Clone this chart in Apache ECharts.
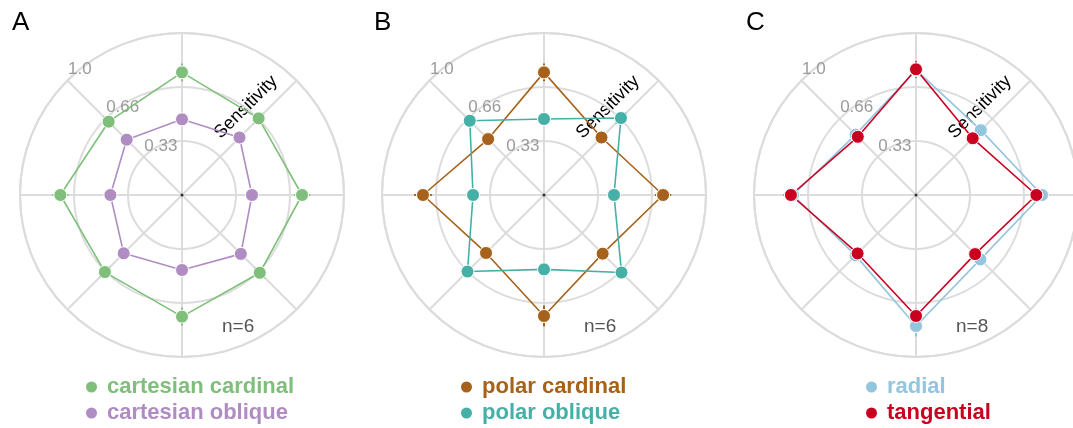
<!DOCTYPE html>
<html>
<head>
<meta charset="utf-8">
<script src="https://cdn.jsdelivr.net/npm/echarts@6/dist/echarts.min.js"></script>
<style>
  html, body { margin: 0; padding: 0; background: #ffffff; }
  #chart { width: 1073px; height: 428px; }
</style>
</head>
<body>
<div id="chart"></div>
<script>
// Stimulus directions in degrees (0 = right, counter-clockwise)
const directions = [0, 45, 90, 135, 180, 225, 270, 315];

// Radial ticks
const tickValues = [1 / 3, 2 / 3, 1];
const tickLabels = ['0.33', '0.66', '1.0'];

// Panel A
const cartesianCardinal    = [0.741, 0.669, 0.757, 0.640, 0.751, 0.673, 0.751, 0.679];
const cartesianCardinalErr = [0.050, 0.045, 0.055, 0.045, 0.050, 0.045, 0.055, 0.045];
const cartesianOblique     = [0.432, 0.502, 0.467, 0.483, 0.442, 0.509, 0.463, 0.514];
const cartesianObliqueErr  = [0.030, 0.030, 0.030, 0.030, 0.030, 0.030, 0.030, 0.030];

// Panel B
const polarCardinal    = [0.735, 0.502, 0.757, 0.488, 0.747, 0.506, 0.747, 0.512];
const polarCardinalErr = [0.050, 0.035, 0.055, 0.035, 0.055, 0.035, 0.065, 0.035];
const polarOblique     = [0.432, 0.672, 0.469, 0.648, 0.438, 0.668, 0.459, 0.677];
const polarObliqueErr  = [0.030, 0.045, 0.030, 0.040, 0.030, 0.040, 0.030, 0.040];

// Panel C
const radial        = [0.778, 0.566, 0.772, 0.527, 0.759, 0.527, 0.809, 0.562];
const radialErr     = [0.045, 0.040, 0.050, 0.040, 0.045, 0.040, 0.065, 0.040];
const tangential    = [0.743, 0.495, 0.776, 0.508, 0.772, 0.510, 0.747, 0.516];
const tangentialErr = [0.040, 0.035, 0.050, 0.035, 0.045, 0.035, 0.045, 0.035];

const FONT = '"Liberation Sans", Arial, Helvetica, sans-serif';
const GRID = '#dcdcdc';

const panels = [
  {
    letter: 'A', count: 'n=6', center: [182, 195], legendLeft: 86,
    groups: [
      { name: 'cartesian cardinal', color: '#7fbf7b', values: cartesianCardinal, errors: cartesianCardinalErr },
      { name: 'cartesian oblique',  color: '#af8dc3', values: cartesianOblique,  errors: cartesianObliqueErr }
    ]
  },
  {
    letter: 'B', count: 'n=6', center: [544, 195], legendLeft: 461,
    groups: [
      { name: 'polar cardinal', color: '#a6611a', values: polarCardinal, errors: polarCardinalErr },
      { name: 'polar oblique',  color: '#45b0a6', values: polarOblique,  errors: polarObliqueErr }
    ]
  },
  {
    letter: 'C', count: 'n=8', center: [916, 195], legendLeft: 866,
    groups: [
      { name: 'radial',     color: '#92c5de', values: radial,     errors: radialErr },
      { name: 'tangential', color: '#ca0020', values: tangential, errors: tangentialErr }
    ]
  }
];

const R = 162;
const polar = [], angleAxis = [], radiusAxis = [], series = [], legend = [], graphic = [];

panels.forEach((p, i) => {
  polar.push({ center: p.center, radius: R });
  angleAxis.push({
    polarIndex: i, type: 'value', min: 0, max: 360, interval: 45,
    startAngle: 0, clockwise: false,
    axisLine: { show: true, lineStyle: { color: GRID, width: 2 } },
    axisTick: { show: false }, axisLabel: { show: false },
    splitLine: { show: true, lineStyle: { color: GRID, width: 2 } }
  });
  radiusAxis.push({
    polarIndex: i, type: 'value', min: 0, max: 1, interval: 1 / 3,
    axisLine: { show: false }, axisTick: { show: false }, axisLabel: { show: false },
    splitLine: { show: true, lineStyle: { color: GRID, width: 2 } }
  });

  // tick labels along the upper-left spoke
  series.push({
    type: 'scatter', coordinateSystem: 'polar', polarIndex: i, silent: true,
    symbolSize: 1, itemStyle: { color: 'rgba(0,0,0,0)' },
    data: tickValues.map((v, k) => [v, 135, tickLabels[k]]),
    label: {
      show: true, position: [0, 0], align: 'left', verticalAlign: 'bottom',
      offset: [1, -2], formatter: (q) => q.value[2],
      color: '#828282', fontFamily: FONT, fontSize: 17
    },
    z: 3
  });

  // origin mark
  series.push({
    type: 'scatter', coordinateSystem: 'polar', polarIndex: i, silent: true,
    symbolSize: 3, itemStyle: { color: '#000' }, data: [[0, 0]], z: 3
  });

  p.groups.forEach((g, gi) => {
    // short radial error bars
    series.push({
      type: 'custom', coordinateSystem: 'polar', polarIndex: i, silent: true,
      name: g.name + ' spread',
      data: g.values.map((v, k) => [v, directions[k], g.errors[k]]),
      encode: { radius: 0, angle: 1 },
      renderItem: (params, api) => {
        const r = api.value(0), a = api.value(1), e = api.value(2);
        const p1 = api.coord([r - e, a]);
        const p2 = api.coord([r + e, a]);
        return {
          type: 'line',
          shape: { x1: p1[0], y1: p1[1], x2: p2[0], y2: p2[1] },
          style: { stroke: g.color, lineWidth: 2 }
        };
      },
      z: 4
    });
    const pts = g.values.map((v, k) => [v, directions[k]]);
    pts.push([g.values[0], 360]);
    series.push({
      type: 'line', coordinateSystem: 'polar', polarIndex: i, name: g.name,
      data: pts, symbol: 'circle', symbolSize: 13, showAllSymbol: true,
      lineStyle: { color: g.color, width: 1.6 },
      itemStyle: { color: g.color, borderColor: '#ffffff', borderWidth: 1 },
      emphasis: { disabled: true }, animation: false, z: 5
    });

    // one legend row per group
    legend.push({
      left: p.legendLeft, top: 376 + gi * 26, orient: 'vertical', padding: 0,
      icon: 'circle', itemWidth: 11, itemHeight: 11,
      selectedMode: false,
      data: [{ name: g.name, itemStyle: { borderWidth: 0 }, textStyle: { color: g.color } }],
      textStyle: { fontFamily: FONT, fontSize: 22, fontWeight: 'bold', lineHeight: 22, padding: [0, 0, 0, 5] }
    });
  });

  const [cx, cy] = p.center;
  graphic.push({
    type: 'text', left: cx - 170, top: 10,
    style: { text: p.letter, font: '26px ' + FONT, fill: '#000' }
  });
  graphic.push({
    type: 'text', x: cx + 40, y: cy + 141,
    style: { text: p.count, font: '19px ' + FONT, fill: '#555555', textVerticalAlign: 'bottom' }
  });
  graphic.push({
    type: 'text', x: cx + 64, y: cy - 88, rotation: Math.PI / 4,
    style: { text: 'Sensitivity', font: '18px ' + FONT, fill: '#000', textAlign: 'center', textVerticalAlign: 'middle' }
  });
});

const chart = echarts.init(document.getElementById('chart'), null, { renderer: 'canvas' });
chart.setOption({
  backgroundColor: '#ffffff',
  animation: false,
  polar, angleAxis, radiusAxis, series, legend, graphic
});
</script>
</body>
</html>
